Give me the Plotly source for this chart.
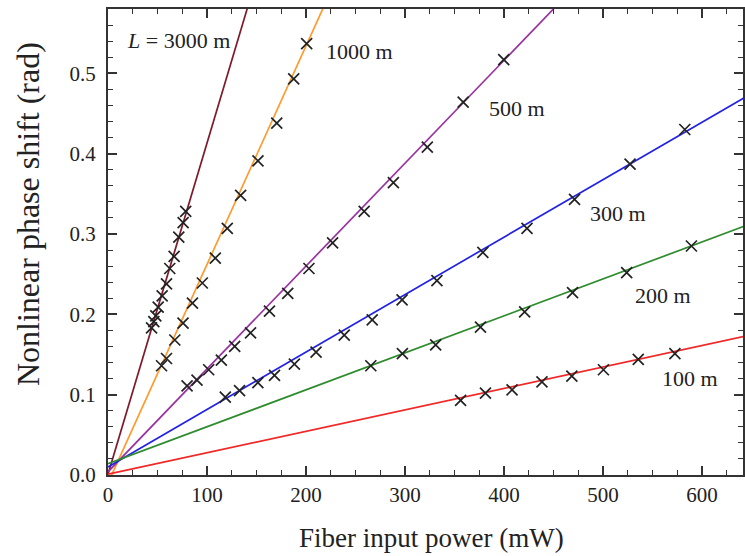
import plotly.graph_objects as go

# ---- data ----
labels = ["3000 m", "1000 m", "500 m", "300 m", "200 m", "100 m"]

x_3000 = [44.0, 46.3, 48.3, 50.7, 54.7, 59.1, 62.4, 66.8, 71.5, 75.9, 78.5]
y_3000 = [0.183, 0.191, 0.198, 0.209, 0.223, 0.238, 0.257, 0.272, 0.296, 0.314, 0.328]

x_1000 = [54.1, 59.1, 67.5, 75.8, 85.3, 95.3, 108.4, 120.5, 134.0, 151.5, 170.5, 187.6, 200.7]
y_1000 = [0.136, 0.145, 0.168, 0.189, 0.214, 0.239, 0.270, 0.307, 0.348, 0.391, 0.438, 0.493, 0.537]

x_500 = [79.9, 89.9, 101.7, 114.5, 128.0, 144.0, 163.1, 181.6, 203.0, 226.9, 258.8, 288.3, 322.6, 358.8, 399.8]
y_500 = [0.111, 0.118, 0.131, 0.143, 0.160, 0.177, 0.204, 0.226, 0.257, 0.289, 0.328, 0.364, 0.408, 0.464, 0.517]

x_300 = [118.5, 132.9, 151.4, 168.2, 188.3, 210.2, 238.7, 266.9, 297.1, 332.3, 378.7, 423.3, 471.3, 527.4, 582.7]
y_300 = [0.097, 0.105, 0.115, 0.124, 0.138, 0.153, 0.174, 0.193, 0.218, 0.242, 0.277, 0.307, 0.343, 0.387, 0.430]

x_200 = [265.5, 297.4, 331.0, 376.3, 420.9, 469.3, 524.0, 589.4]
y_200 = [0.136, 0.151, 0.162, 0.184, 0.203, 0.227, 0.252, 0.285]

x_100 = [356.2, 381.3, 408.2, 438.4, 468.6, 500.5, 535.7, 572.7]
y_100 = [0.093, 0.102, 0.106, 0.116, 0.123, 0.131, 0.144, 0.151]

# linear fits (slope rad/mW, intercept rad)
fit_slope = [0.00412, 0.00272, 0.00128, 0.000715, 0.00046, 0.000267]
fit_intercept = [0.001, -0.010, 0.004, 0.010, 0.014, 0.001]
fit_x = [0, 700]

colors = ["#7e1a2c", "#ff9a2e", "#9932a0", "#2222e6", "#2e8b2e", "#f02828"]

xs_all = [x_3000, x_1000, x_500, x_300, x_200, x_100]
ys_all = [y_3000, y_1000, y_500, y_300, y_200, y_100]

FONT = "Liberation Serif"

fig = go.Figure()
for i in range(len(labels)):
    fy = [fit_intercept[i] + fit_slope[i] * xv for xv in fit_x]
    fig.add_trace(go.Scatter(x=fit_x, y=fy, mode="lines",
                             line=dict(color=colors[i], width=1.7),
                             showlegend=False, hoverinfo="skip"))
for i in range(len(labels)):
    fig.add_trace(go.Scatter(x=xs_all[i], y=ys_all[i], mode="markers",
                             marker=dict(symbol="x-thin", size=11,
                                         line=dict(width=1.7, color="#222222")),
                             showlegend=False))

# curve labels
label_pos = [(17, 0.541), (218.5, 0.527), (383, 0.456), (484.7, 0.3255), (530.7, 0.224), (557.6, 0.1203)]
label_text = ["<i>L</i> = 3000 m", "1000 m", "500 m", "300 m", "200 m", "100 m"]
for (lx, ly), t in zip(label_pos, label_text):
    fig.add_annotation(x=lx, y=ly, text=t, showarrow=False, xanchor="left", yanchor="middle",
                       font=dict(family=FONT, size=22, color="#222222"))

# axis titles
fig.add_annotation(xref="paper", yref="paper", x=0, y=0.56, xshift=-80,
                   text="Nonlinear phase shift (rad)", textangle=-90, showarrow=False,
                   xanchor="center", yanchor="middle",
                   font=dict(family=FONT, size=32, color="#222222"))
fig.add_annotation(xref="paper", yref="paper", x=0.51, y=0, yshift=-63,
                   text="Fiber input power (mW)", showarrow=False,
                   xanchor="center", yanchor="middle",
                   font=dict(family=FONT, size=27, color="#222222"))

axis_common = dict(showline=True, linecolor="#333333", linewidth=2, mirror="ticks",
                   ticks="inside", ticklen=9, tickwidth=1.6, tickcolor="#333333",
                   showgrid=False, zeroline=False,
                   tickfont=dict(family=FONT, size=21, color="#222222"))

fig.update_xaxes(range=[0, 641.5], dtick=100, tick0=0,
                 minor=dict(dtick=25, ticks="inside", ticklen=5, tickwidth=1.3, tickcolor="#333333", showgrid=False),
                 **axis_common)
fig.update_yaxes(range=[0, 0.58], dtick=0.1, tick0=0, tickformat=".1f", ticklabelstandoff=6,
                 minor=dict(dtick=0.02, ticks="inside", ticklen=5, tickwidth=1.3, tickcolor="#333333", showgrid=False),
                 **axis_common)

fig.update_layout(width=745, height=556, margin=dict(l=108, r=0, t=9, b=81),
                  plot_bgcolor="white", paper_bgcolor="white")

fig.write_html("out.html")
